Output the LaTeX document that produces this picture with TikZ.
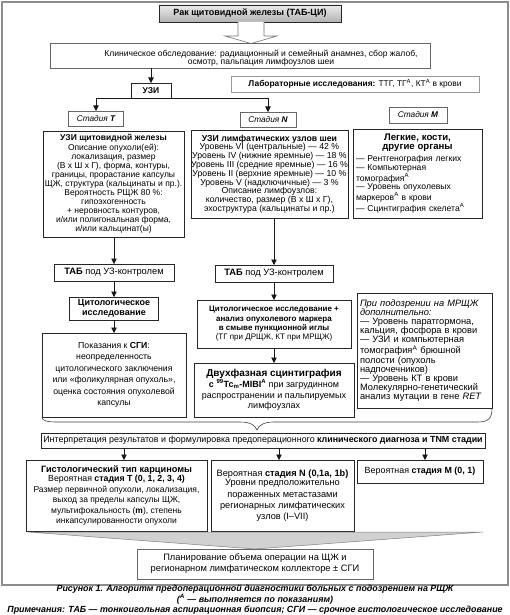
\documentclass[tikz,border=0pt]{standalone}
\usepackage{fontspec}
\setmainfont{Liberation Sans}
\usetikzlibrary{arrows.meta}
\newcommand\Bx[7][]{\node[bx,#1,minimum width={(#5-#3)*1pt},minimum height={(#6-#4)*1pt}] (#2) at (#3,#4) {#7};}
\newcommand\fs[2]{\fontsize{#1}{#2}\selectfont}
\begin{document}
\begin{tikzpicture}[x=1pt,y=-1pt,
  bx/.style={draw=black!85, line width=0.6pt, fill=white, inner sep=0pt, outer sep=0pt, align=center, anchor=north west, font=\fs{7.5}{9}},
  gbx/.style={draw=black!60},
  arr/.style={-{Triangle[width=5.5pt,length=5.5pt]}, line width=0.6pt, black!90},
  ln/.style={line width=0.6pt, black!90},
]
\useasboundingbox (0,0) rectangle (510,615);
\fill[white] (0,0) rectangle (510,615);
\draw[black!45, line width=1.6pt] (2,2) rectangle (508,585);

% top
\Bx[top color=black!8, bottom color=black!30, font=\bfseries\fs{9}{10}]{top}{159}{5}{341}{22}{Рак щитовидной железы (ТАБ-ЦИ)}
\draw[black!55, fill=white, line width=0.6pt] (238,22) -- (238,36) -- (225,36) -- (251,43.5) -- (277,36) -- (264,36) -- (264,22);

\Bx[gbx]{clin}{50}{43}{430}{68}{}
\node[font=\fs{8.55}{8.2}, align=center, inner sep=0pt] (clinT) at (261,58) {Клиническое обследование: радиационный и семейный анамнез, сбор жалоб,\\осмотр, пальпация лимфоузлов шеи};

\Bx[font=\bfseries\fs{8.5}{9}]{uzi}{131}{83}{171}{98}{УЗИ}
\draw[arr] (clin.south -| uzi.north) -- (uzi.north);

\Bx[draw=black!40, font=\fs{8.4}{9}]{lab}{231}{76}{479}{92}{\textbf{Лабораторные исследования:} ТТГ, ТГ\textsuperscript{А}, КТ\textsuperscript{А} в крови}

% stages
\Bx[gbx, font=\itshape\fs{8.3}{9}]{stT}{68.5}{111}{123.5}{126}{Стадия \textbf{T}}
\Bx[gbx, font=\itshape\fs{8.3}{9}]{stN}{240}{112}{296}{127}{Стадия \textbf{N}}
\Bx[gbx, font=\itshape\fs{8.3}{9}]{stM}{389}{107}{447}{123}{Стадия \textbf{M}}
\draw[ln] (stT.north |- uzi.south) -- (stN.north |- uzi.south);
\draw[arr] (stT.north |- uzi.south) -- (stT.north);
\draw[arr] (stN.north |- uzi.south) -- (stN.north);

% T column
\Bx[font=\fs{8.5}{9.07}]{uzT}{43}{131}{184}{237}{\textbf{УЗИ щитовидной железы}\\Описание опухоли(ей):\\локализация, размер\\(В х Ш х Г), форма, контуры,\\границы, прорастание капсулы\\ЩЖ, структура (кальцинаты и пр.).\\Вероятность РЩЖ 80 \%:\\гипоэхогенность\\+ неровность контуров,\\и/или полигональная форма,\\и/или кальцинат(ы)}
\Bx[font=\fs{9.3}{10}]{tab1}{54}{264}{174}{281}{\textbf{ТАБ} под УЗ-контролем}
\draw[arr] (uzT.south -| tab1.north) -- (tab1.north);
\Bx[font=\bfseries\fs{9}{10.5}]{cy1}{69.5}{297}{158.5}{320}{Цитологическое\\исследование}
\draw[arr] (tab1.south) -- (cy1.north);
\Bx[font=\fs{8.7}{11.5}]{sgi}{42}{333}{186}{417}{Показания к \textbf{СГИ}:\\неопределенность\\цитологического заключения\\или «фоликулярная опухоль»,\\оценка состояния опухолевой\\капсулы}
\draw[arr] (cy1.south) -- (sgi.north);

% N column
\Bx[font=\fs{8.7}{8.8}]{uzN}{191}{130}{347}{218}{\textbf{УЗИ лимфатических узлов шеи}\\Уровень VI (центральные) — 42 \%\\Уровень IV (нижние яремные) — 18 \%\\Уровень III (средние яремные) — 16 \%\\Уровень II (верхние яремные) — 10 \%\\Уровень V (надключичные) — 3 \%\\Описание лимфоузлов:\\количество, размер (В х Ш х Г),\\эхоструктура (кальцинаты и пр.)}
\Bx[font=\fs{9.3}{10}]{tab2}{215}{265}{333}{282}{\textbf{ТАБ} под УЗ-контролем}
\draw[arr] (uzN.south -| tab2.north) -- (tab2.north);
\Bx[font=\fs{8}{9.3}]{cy2}{197}{300}{351}{348}{\textbf{Цитологическое исследование +}\\\textbf{анализ опухолевого маркера}\\\textbf{в смыве пункционной иглы}\\(ТГ при ДРЩЖ, КТ при МРЩЖ)}
\draw[arr] (tab2.south) -- (cy2.north);
\Bx[font=\fs{9}{10.8}]{sc}{194}{363}{354}{417}{{\bfseries\fs{10}{12.5}Двухфазная сцинтиграфия}\\\textbf{с \textsuperscript{99}Tc\textsubscript{m}-MIBI\textsuperscript{А}} при загрудинном\\распространении и пальпируемых\\лимфоузлах}
\draw[arr] (cy2.south) -- (sc.north);

% M column
\Bx[font=\fs{8.6}{8.6}, align=left, inner xsep=3pt, text width=123pt]{mb}{353}{129}{482}{218}{\makebox[123pt][c]{\bfseries\fs{9.6}{8.2}Легкие, кости,}\\\makebox[123pt][c]{\bfseries\fs{9.6}{8.2}другие органы}\\[4pt]— Рентгенография легких\\— Компьютерная\\томография\textsuperscript{А}\\— Уровень опухолевых\\маркеров\textsuperscript{А} в крови\\— Сцинтиграфия скелета\textsuperscript{А}}
\Bx[font=\fs{9.3}{9.1}, align=left, inner xsep=3pt, text width=129pt]{mr}{357}{293}{492}{408}{\textit{При подозрении на МРЩЖ}\\\textit{дополнительно:}\\— Уровень паратгормона,\\кальция, фосфора в крови\\— УЗИ и компьютерная\\томография\textsuperscript{А} брюшной\\полости (опухоль\\надпочечников)\\— Уровень КТ в крови\\Молекулярно-генетический\\анализ мутации в гене \textit{RET}}

% brace
\draw[line width=0.6pt, black!75] (sgi.south west) .. controls (42,421) and (47,422) .. (58,422) -- (240,422) .. controls (250,422) and (255,425) .. (257,430) .. controls (259,425) and (264,422) .. (274,422) -- (477,422) .. controls (488,422) and (492,419) .. (mr.south east);

\Bx[font=\fs{8.9}{9}]{interp}{41}{433}{485}{448}{Интерпретация результатов и формулировка предоперационного \textbf{клинического диагноза и TNM стадии}}

\Bx[font=\fs{8.5}{10.5}]{hT}{26}{460}{207}{531}{{\bfseries\fs{9.2}{9}Гистологический тип карциномы}\\[-1.5pt]{\fs{8.8}{9}Вероятная \textbf{стадия T (0, 1, 2, 3, 4)}}\\Размер первичной опухоли, локализация,\\выход за пределы капсулы ЩЖ,\\мультифокальность (\textbf{m}), степень\\инкапсулированности опухоли}
\Bx[font=\fs{9.2}{11.3}]{hN}{211}{460}{354}{531}{Вероятная \textbf{стадия N (0,1a, 1b)}\\[-1.5pt]Уровни предположительно\\пораженных метастазами\\регионарных лимфатических\\узлов (I–VII)}
\Bx[font=\fs{8.9}{9}]{hM}{357}{460}{483}{483}{Вероятная \textbf{стадия M (0, 1)}}
\draw[arr] (interp.south -| 124,0) -- (hT.north -| 124,0);
\draw[arr] (interp.south -| 279,0) -- (hN.north -| 279,0);
\draw[arr] (interp.south -| 425,0) -- (hM.north -| 425,0);

% funnel
\draw[black!50, fill=black!18, line width=0.5pt] (28,532) -- (483,532) -- (255,549) -- cycle;
\Bx[gbx, font=\fs{9.3}{11}]{plan}{137}{549}{373}{579}{Планирование объема операции на ЩЖ и\\регионарном лимфатическом коллекторе ± СГИ}

\node[font=\bfseries\itshape\fs{8.9}{8.1}, align=center, inner sep=0pt] (cap) at (255,599.5) {Рисунок 1. Алгоритм предоперационной диагностики больных с подозрением на РЩЖ\\(\textsuperscript{А} — выполняется по показаниям)\\Примечания: ТАБ — тонкоигольная аспирационная биопсия; СГИ — срочное гистологическое исследование};
\end{tikzpicture}
\end{document}
